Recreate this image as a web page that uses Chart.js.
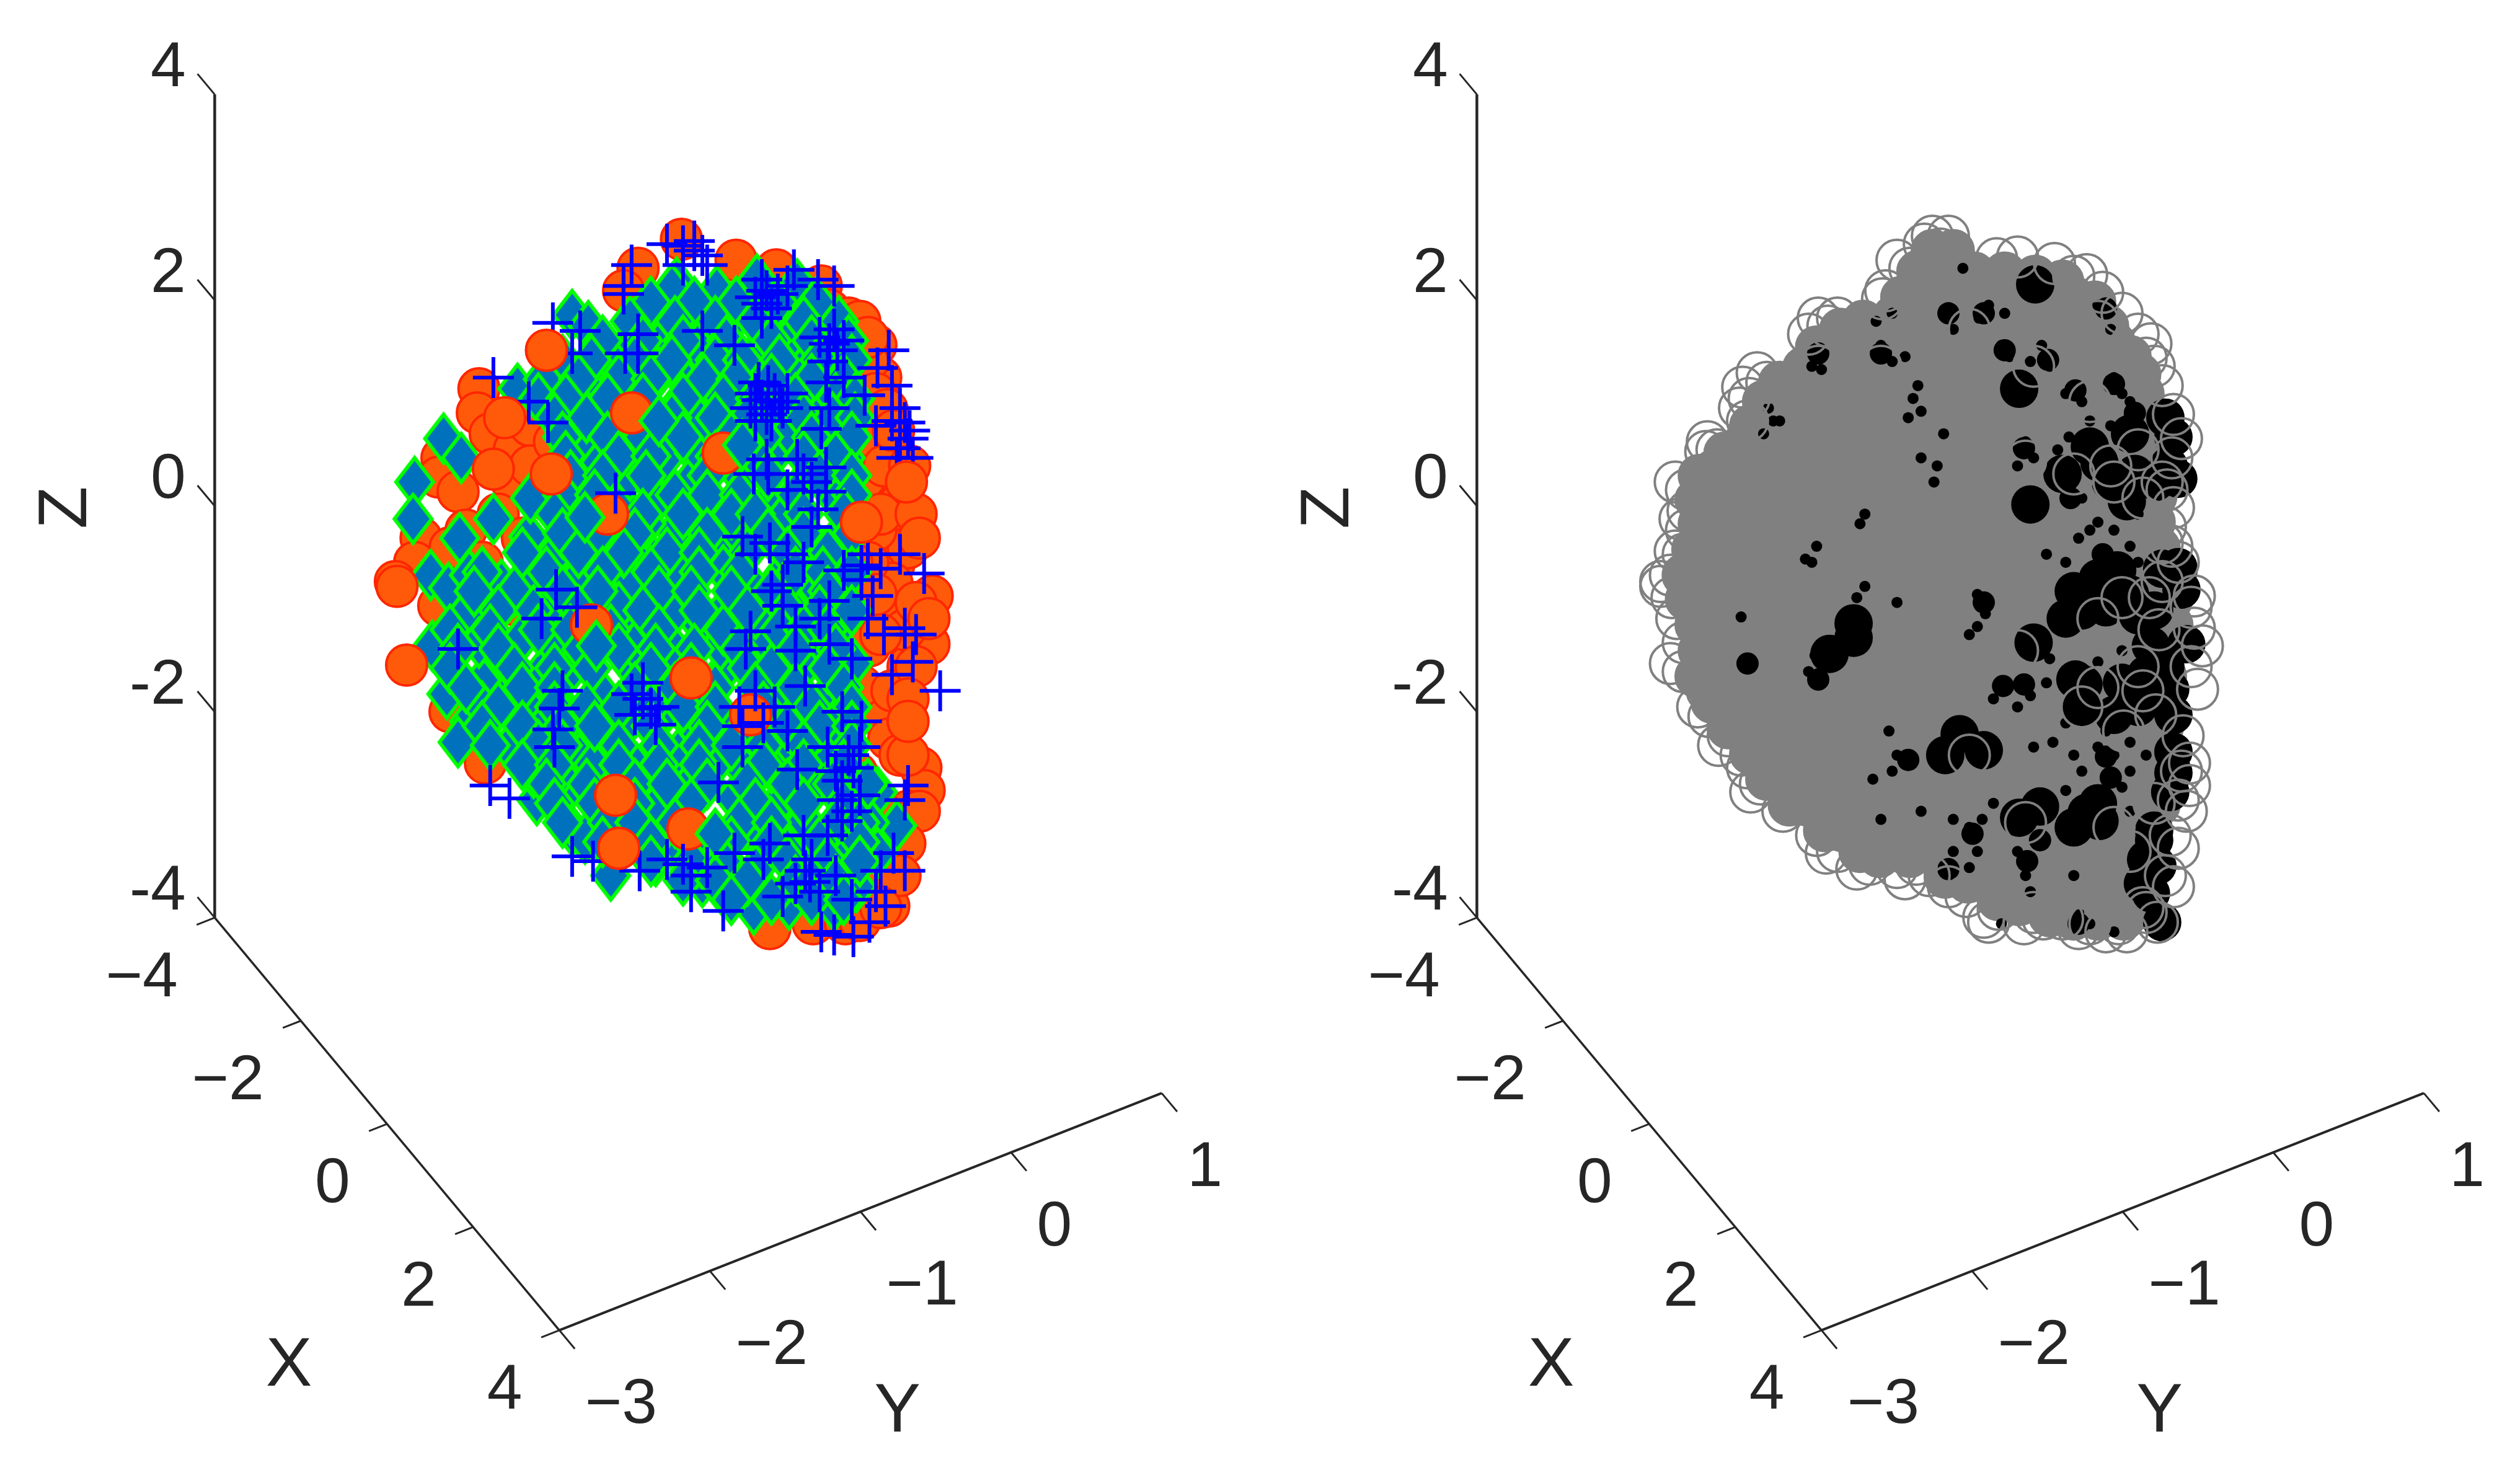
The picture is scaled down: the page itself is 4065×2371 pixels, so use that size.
<!DOCTYPE html>
<html>
<head>
<meta charset="utf-8">
<title>3D scatter panels</title>
<script src="https://cdn.jsdelivr.net/npm/chart.js@4"></script>
<style>
    html, body { margin: 0; padding: 0; background: #fff; }
    canvas { position: absolute; top: 0; }
</style>
</head>
<body>
<canvas id="leftPanel" width="2036" height="2371" style="left:0"></canvas>
<canvas id="rightPanel" width="2029" height="2371" style="left:2036px"></canvas>
<script>
// Axis ticks and labels
const xTicks = [-4, -2, 0, 2, 4];
const xLabels = ['\u22124', '\u22122', '0', '2', '4'];
const yTicks = [-3, -2, -1, 0, 1];
const yLabels = ['\u22123', '\u22122', '\u22121', '0', '1'];
const zTicks = [-4, -2, 0, 2, 4];
const zLabels = ['-4', '-2', '0', '2', '4'];

// Left panel, positions in view units (page scale 1568 x 915)
const orangeBack = [[424,149],[458,162],[397,167],[483,168],[511,178],[388,181],[298,242],[297,257],[516,193],[528,198],[533,214],[548,235],[533,264],[543,272],[343,306],[343,313],[319,301],[275,285],[273,297],[285,306],[538,298],[560,313],[553,334],[556,352],[565,341],[262,335],[280,341],[258,350],[246,362],[580,371],[578,401],[565,415],[536,427],[573,478],[575,492],[565,505],[479,578],[506,575],[526,575],[548,547],[553,564],[553,378],[555,363],[541,402],[280,443],[322,377],[339,361],[302,394],[533,481],[273,377],[550,448],[553,460],[560,470],[302,475],[540,520],[545,330],[540,350],[530,240],[550,290],[555,430],[563,392],[548,505],[558,530],[535,573],[290,330],[300,350],[305,270],[320,280],[330,265],
[548,395],[545,370],[530,350],[548,320],[535,200],[545,215],[548,250],[540,225],[545,245],[552,255],[540,210],[556,268],[566,290],[570,320],[572,335],[570,375],[578,385],[570,415],[565,435],[565,470],[572,505],[563,525],[560,545],[548,565],[330,290],[310,320],[325,335],[345,275],[335,250]];
const orangeMid = [[393,257],[450,282],[378,320],[428,516],[368,389],[467,445]];
const orangeFront = [[314,260],[343,295],[307,292],[340,218],[430,422],[385,528],[565,449],[564,300],[536,325],[247,365],[253,414],[383,495]];
const diamonds = [[421,176],[471,174],[496,177],[418,180],[446,181],[356,196],[366,203],[322,242],[276,273],[258,300],[257,323],[413,211],[457,198],[371,236],[354,237],[446,242],[381,264],[371,285],[413,286],[491,269],[494,208],[516,227],[287,285],[437,261],[388,314],[408,312],[445,319],[477,314],[307,323],[329,334],[420,331],[487,323],[403,344],[450,344],[371,343],[346,344],[268,358],[279,366],[312,364],[290,382],[324,398],[269,402],[346,404],[396,391],[435,388],[418,383],[450,355],[484,361],[524,388],[531,413],[477,400],[300,424],[278,432],[314,435],[332,437],[292,449],[285,462],[317,465],[376,457],[359,470],[423,468],[396,478],[499,448],[484,429],[546,493],[558,514],[334,498],[356,517],[410,500],[484,500],[501,511],[472,539],[469,566],[491,563],[519,564],[524,547],[437,549],[408,536],[364,522],[541,512],[457,497],[349,497],[369,476],[332,481],[462,478],[432,434],[450,418],[393,415],[354,418],[373,430],[410,423],[511,438],[487,467],[516,471],[501,536],[546,531],[533,552],
[436,196],[478,195],[516,206],[392,214],[434,216],[474,215],[380,224],[410,232],[428,240],[468,232],[498,232],[350,255],[394,236],[458,256],[478,254],[510,250],[524,262],[360,275],[395,285],[432,282],[480,285],[508,282],[526,285],[330,310],[392,296],[428,302],[462,298],[500,300],[520,310],[286,335],[385,345],[402,326],[462,335],[508,340],[522,334],[292,358],[328,362],[358,362],[392,360],[422,356],[468,365],[505,362],[522,360],[340,380],[385,378],[452,378],[470,382],[495,382],[510,398],[298,400],[395,402],[420,405],[448,402],[500,415],[470,420],[316,412],[336,420],[430,450],[392,448],[412,445],[356,448],[336,455],[450,450],[520,450],[300,440],[348,482],[428,490],[445,475],[505,490],[525,495],[480,478],[425,530],[465,515],[520,520],[380,545],[455,540],[490,530],[525,530],[450,555],[508,552],
[405,188],[432,188],[458,188],[484,188],[508,188],[392,200],[420,200],[445,200],[470,200],[500,200],[522,200],[375,212],[400,212],[425,212],[452,212],[480,212],[505,212],[528,212],[350,224],[368,224],[395,224],[418,224],[445,224],[462,224],[485,224],[510,224],[530,224],[338,236],[360,236],[385,236],[405,236],[438,236],[458,236],[480,236],[505,236],[525,236],[335,248],[352,248],[378,248],[400,248],[425,248],[450,248],[470,248],[495,248],[520,248],[532,248],[345,260],[365,260],[390,260],[418,260],[445,260],[465,260],[500,260],[518,260],[532,260],[350,272],[378,272],[400,272],[425,272],[455,272],[475,272],[505,272],[530,272],[352,284],[385,284],[405,284],[445,284],[470,284],[500,284],[520,284],[355,296],[375,296],[402,296],[440,296],[478,296],[510,296],[530,296],[350,308],[370,308],[420,308],[440,308],[460,308],[495,308],[530,308],[345,320],[380,320],[400,320],[425,320],[455,320],[470,320],[500,320],[525,320],[350,332],[372,332],[395,332],[440,332],[478,332],[500,332],[530,332],[325,344],[360,344],[388,344],[415,344],[435,344],[465,344],[490,344],[515,344],[300,356],[340,356],[375,356],[405,356],[435,356],[460,356],[495,356],[512,356],[530,356],[295,368],[320,368],[350,368],[372,368],[410,368],[430,368],[455,368],[480,368],[515,368],[310,380],[332,380],[360,380],[400,380],[435,380],[465,380],[490,380],[510,380],[530,380],[280,392],[305,392],[335,392],[355,392],[380,392],[410,392],[450,392],[485,392],[500,392],[515,392],[285,404],[310,404],[362,404],[385,404],[408,404],[432,404],[460,404],[495,404],[520,404],[280,416],[320,416],[345,416],[368,416],[405,416],[430,416],[465,416],[480,416],[515,416],[290,428],[325,428],[345,428],[395,428],[420,428],[445,428],[470,428],[495,428],[525,428],[310,440],[345,440],[365,440],[385,440],[405,440],[425,440],[445,440],[475,440],[505,440],[530,440],[300,452],[325,452],[350,452],[370,452],[405,452],[440,452],[465,452],[490,452],[510,452],[530,452],[305,464],[335,464],[350,464],[385,464],[410,464],[435,464],[455,464],[475,464],[500,464],[530,464],[325,476],[345,476],[385,476],[410,476],[435,476],[475,476],[500,476],[525,476],[340,488],[365,488],[395,488],[415,488],[440,488],[465,488],[490,488],[518,488],[540,488],[345,500],[370,500],[395,500],[430,500],[470,500],[500,500],[525,500],[350,512],[378,512],[395,512],[420,512],[460,512],[480,512],[520,512],[535,512],[375,524],[405,524],[430,524],[455,524],[480,524],[510,524],[535,524],[405,536],[430,536],[450,536],[490,536],[515,536],[535,536],[425,548],[445,548],[465,548],[495,548],[505,548],[520,548],[455,560],[480,560],[505,560],[525,560]];
const diamondsTop = [[410,262],[462,277],[364,322],[445,519],[371,402]];
const plusMarks = [[415,152],[425,153],[432,156],[437,159],[393,165],[388,183],[388,178],[344,201],[361,206],[356,220],[389,220],[397,220],[307,235],[329,250],[341,263],[397,208],[437,206],[457,215],[474,174],[477,181],[474,189],[484,183],[474,198],[494,168],[509,174],[519,178],[519,205],[516,214],[521,218],[553,218],[546,229],[514,238],[472,238],[482,245],[474,249],[467,254],[487,254],[477,258],[516,254],[538,246],[560,254],[563,263],[565,273],[560,279],[568,285],[511,267],[496,286],[477,286],[514,291],[469,295],[383,307],[514,306],[509,317],[505,328],[479,338],[462,334],[536,352],[548,354],[575,357],[487,364],[536,361],[543,371],[516,374],[487,377],[467,393],[464,404],[563,391],[568,412],[585,430],[516,401],[495,405],[346,367],[337,385],[359,378],[285,404],[348,441],[344,454],[393,432],[400,435],[405,441],[408,451],[460,440],[462,452],[462,465],[482,440],[501,427],[536,449],[524,443],[528,470],[531,478],[524,486],[565,489],[563,498],[496,479],[447,487],[524,511],[521,498],[305,489],[317,497],[479,525],[457,531],[556,531],[425,538],[430,545],[398,542],[369,536],[356,533],[450,567],[501,542],[504,549],[487,558],[548,542],[551,564],[541,574],[519,582],[531,583],[511,580],[563,542],
[478,240],[485,250],[470,245],[490,245],[480,262],[470,262],[432,150],[425,165],[440,165],[470,185],[480,192],[490,178],[510,210],[525,212],[515,225],[525,235],[555,262],[566,268],[558,285],[555,240],[545,265],[500,295],[490,305],[505,300],[478,295],[500,350],[490,345],[470,345],[525,355],[540,345],[560,345],[480,368],[495,390],[510,385],[550,395],[570,395],[555,420],[530,410],[470,430],[475,450],[490,455],[515,465],[535,465],[520,480],[535,495],[530,505],[515,520],[500,520],[505,535],[510,555],[495,550],[520,545],[530,560],[545,555],[475,535],[410,440],[395,445],[400,425],[350,430],[345,465],[440,540],[430,555],[415,535],[540,385]];

// Right panel
const grayDisks = [[417,156],[430,156],
[408,169],[424,165],[443,170],[462,170],[481,172],[498,175],
[398,185],[414,181],[433,181],[452,181],[471,181],[490,181],[505,185],[518,188],
[360,205],[374,200],[393,197],[412,197],[431,197],[450,197],[469,197],[488,197],[507,197],[526,203],
[345,216],[359,213],[378,213],[397,213],[416,213],[435,213],[454,213],[473,213],[492,213],[511,213],[530,213],[540,222],
[322,238],[337,229],[356,229],[375,229],[394,229],[413,229],[432,229],[451,229],[470,229],[489,229],[508,229],[527,229],[546,233],
[312,250],[324,245],[343,245],[362,245],[381,245],[400,245],[419,245],[438,245],[457,245],[476,245],[495,245],[514,245],[533,245],[548,245],
[304,265],[317,261],[336,261],[355,261],[374,261],[393,261],[412,261],[431,261],[450,261],[469,261],[488,261],[507,261],[526,261],[545,261],[556,261],
[288,282],[299,277],[318,277],[337,277],[356,277],[375,277],[394,277],[413,277],[432,277],[451,277],[470,277],[489,277],[508,277],[527,277],[546,277],[558,277],
[272,296],[281,293],[300,293],[319,293],[338,293],[357,293],[376,293],[395,293],[414,293],[433,293],[452,293],[471,293],[490,293],[509,293],[528,293],[547,293],[558,293],
[270,311],[281,309],[300,309],[319,309],[338,309],[357,309],[376,309],[395,309],[414,309],[433,309],[452,309],[471,309],[490,309],[509,309],[528,309],[547,309],[556,309],
[272,326],[284,325],[303,325],[322,325],[341,325],[360,325],[379,325],[398,325],[417,325],[436,325],[455,325],[474,325],[493,325],[512,325],[531,325],[550,325],[555,325],
[268,342],[277,341],[296,341],[315,341],[334,341],[353,341],[372,341],[391,341],[410,341],[429,341],[448,341],[467,341],[486,341],[505,341],[524,341],[543,341],[558,341],
[262,358],[271,357],[290,357],[309,357],[328,357],[347,357],[366,357],[385,357],[404,357],[423,357],[442,357],[461,357],[480,357],[499,357],[518,357],[537,357],[556,357],[565,357],
[264,373],[273,373],[292,373],[311,373],[330,373],[349,373],[368,373],[387,373],[406,373],[425,373],[444,373],[463,373],[482,373],[501,373],[520,373],[539,373],[558,373],[566,373],
[270,389],[278,389],[294,389],[313,389],[332,389],[351,389],[370,389],[389,389],[408,389],[427,389],[446,389],[465,389],[484,389],[503,389],[522,389],[541,389],[560,389],[566,389],
[272,405],[280,405],[296,405],[315,405],[334,405],[353,405],[372,405],[391,405],[410,405],[429,405],[448,405],[467,405],[486,405],[505,405],[524,405],[543,405],[562,405],
[270,421],[282,421],[296,421],[315,421],[334,421],[353,421],[372,421],[391,421],[410,421],[429,421],[448,421],[467,421],[486,421],[505,421],[524,421],[543,421],[562,421],
[280,437],[289,437],[308,437],[327,437],[346,437],[365,437],[384,437],[403,437],[422,437],[441,437],[460,437],[479,437],[498,437],[517,437],[536,437],[555,437],
[290,453],[301,453],[320,453],[339,453],[358,453],[377,453],[396,453],[415,453],[434,453],[453,453],[472,453],[491,453],[510,453],[529,453],[548,453],[560,453],
[304,469],[315,469],[334,469],[353,469],[372,469],[391,469],[410,469],[429,469],[448,469],[467,469],[486,469],[505,469],[524,469],[543,469],[558,469],
[314,485],[324,485],[343,485],[362,485],[381,485],[400,485],[419,485],[438,485],[457,485],[476,485],[495,485],[514,485],[533,485],[552,485],[558,485],
[328,501],[339,501],[358,501],[377,501],[396,501],[415,501],[434,501],[453,501],[472,501],[491,501],[510,501],[529,501],[548,501],[558,501],
[350,517],[361,517],[380,517],[399,517],[418,517],[437,517],[456,517],[475,517],[494,517],[513,517],[532,517],[551,517],
[372,530],[384,533],[403,533],[422,533],[441,533],[460,533],[479,533],[498,533],[517,533],[536,533],[552,533],
[425,546],[439,549],[458,549],[477,549],[496,549],[515,549],[534,549],[548,549],
[458,560],[471,563],[490,563],[509,563],[528,563],[545,563],
[490,570],[505,572],[520,572],[536,572]];
const blackLarge = [[471,242],[478,314],[481,177],[562,260],[567,272],[570,298],[543,295],[521,288],[538,312],[570,353],[560,354],[521,371],[525,378],[545,383],[570,356],[572,367],[575,401],[562,415],[565,429],[567,445],[506,423],[511,426],[480,400],[530,445],[425,470],[434,457],[449,467],[484,502],[513,506],[521,511],[471,509],[555,523],[557,539],[553,556],[560,574],[567,481],[565,493],[567,468],[353,407],[368,397],[368,388],[555,517],[540,270],[532,355],[510,380],[545,440],[505,368],[500,385],[520,360],[540,370],[555,380],[553,402],[550,420],[535,425],[510,440],[520,500],[505,515],[550,535],[548,550],[564,290],[556,300],[528,300],[515,278],[498,295]];
const blackMedium = [[385,220],[427,195],[449,195],[462,218],[489,224],[525,192],[506,243],[530,239],[346,220],[474,279],[543,257],[523,345],[503,310],[449,375],[474,426],[461,427],[525,471],[528,484],[476,536],[484,523],[442,519],[427,541],[402,473],[508,575],[346,423],[302,413]];
const blackSmall = [[436,167],[315,254],[318,262],[312,270],[322,262],[405,248],[410,256],[402,260],[408,240],[345,220],[348,230],[342,228],[385,215],[392,225],[400,222],[382,200],[392,195],[425,195],[430,205],[452,190],[446,198],[462,195],[460,215],[465,222],[478,225],[485,215],[490,228],[525,195],[528,205],[520,190],[500,245],[510,250],[530,235],[535,245],[540,250],[475,275],[480,285],[470,290],[495,280],[500,300],[510,310],[515,330],[530,330],[540,340],[545,350],[520,345],[500,350],[488,345],[345,340],[342,350],[338,348],[375,320],[372,326],[420,290],[424,270],[418,300],[410,285],[375,365],[370,372],[365,380],[395,375],[445,370],[450,382],[445,390],[440,395],[488,425],[490,410],[460,430],[455,435],[470,440],[478,433],[380,485],[390,455],[392,480],[395,470],[480,465],[505,470],[510,480],[520,465],[525,455],[530,470],[385,510],[410,505],[430,510],[440,515],[445,530],[470,530],[475,545],[478,555],[535,490],[540,480],[550,470],[340,418],[344,408],[298,384],[300,415],[460,575],[508,568],[515,575],[530,580],[440,540],[430,530],
[520,325],[508,335],[528,265],[515,262],[502,272],[545,320],[535,405],[520,412],[500,450],[492,462],[540,462],[500,492],[455,500],[448,510],[505,545],[540,505]];
const grayRings = [[417,147],[427,147],[395,162],[457,161],[493,164],[513,171],[388,181],[346,198],[358,198],[553,214],[550,223],[308,232],[299,241],[297,254],[277,275],[276,281],[257,300],[260,323],[257,343],[248,362],[567,258],[572,273],[567,316],[562,328],[560,338],[570,350],[248,365],[254,413],[277,430],[271,440],[284,464],[302,478],[304,493],[324,505],[351,531],[370,541],[400,547],[407,538],[427,552],[449,571],[452,574],[474,575],[486,572],[508,578],[525,580],[538,580],[557,574],[567,552],[570,528],[575,505],[577,489],[577,475],[582,429],[585,402],[580,371],[580,391],
[520,385],[535,372],[552,372],[558,392],[545,415],[548,430],[556,445],[510,440],[520,428],[536,455],[470,405],[560,300],[548,310],[530,300],[545,280],[555,500],[540,530],[548,565],[530,515],[475,512],[440,470],[560,362],[528,290],[505,295],
[412,152],[422,155],[403,167],[386,186],[352,203],[340,208],[470,160],[505,172],[523,182],[535,195],[545,208],[314,238],[303,248],[302,262],[283,280],[264,305],[265,318],[264,330],[262,345],[254,358],[255,372],[258,385],[262,400],[262,418],[275,425],[278,446],[290,458],[298,470],[310,488],[330,500],[345,520],[358,530],[378,538],[395,540],[415,545],[438,558],[458,566],[480,568],[498,572],[515,575],[533,575],[550,568],[562,545],[565,520],[570,498],[572,480],[573,458],[578,415],[578,378],[566,340],[563,305],[566,285],[560,240],[555,228],
[346,228],[385,228],[440,205],[480,228],[520,200],[475,287],[515,250]];

// View units to projected axes: page position of the origin and of one unit along each axis
const origin = [521.9, 332.7];
const xStep = [26.8, 32.1];
const yStep = [93.7, -36.9];
const zStep = [0, -64.05];

function project(x, y, z) {
    return {
        x: origin[0] + x * xStep[0] + y * yStep[0] + z * zStep[0],
        y: origin[1] + x * xStep[1] + y * yStep[1] + z * zStep[1]
    };
}

function toPoints(list) {
    return list.map(p => ({ x: p[0], y: p[1] }));
}

function lineSet(from, to, width) {
    return {
        data: [from, to],
        showLine: true,
        pointRadius: 0,
        borderColor: '#262626',
        borderWidth: width,
        order: 0
    };
}

// Box edges and tick marks
function axisSets() {
    const sets = [
        lineSet(project(-4, -3, -4), project(-4, -3, 4), 4.5),
        lineSet(project(-4, -3, -4), project(4, -3, -4), 3.5),
        lineSet(project(4, -3, -4), project(4, 1, -4), 4)
    ];
    zTicks.forEach(t => sets.push(lineSet(project(-4, -3, t), project(-4.4, -3, t), 3)));
    xTicks.forEach(t => sets.push(lineSet(project(t, -3, -4), project(t, -3.12, -4), 3)));
    yTicks.forEach(t => sets.push(lineSet(project(4, t, -4), project(4.36, t, -4), 3)));
    return sets;
}

function markSet(list, style, radius, fill, edge, width, order) {
    return {
        data: toPoints(list),
        pointStyle: style,
        pointRadius: radius,
        pointBackgroundColor: fill,
        pointBorderColor: edge,
        pointBorderWidth: width,
        showLine: false,
        order: order
    };
}

// Narrow diamond marker, taller than wide, used as a Chart.js point style
function diamondMarker() {
    const c = document.createElement('canvas');
    c.width = 70;
    c.height = 88;
    const g = c.getContext('2d');
    g.beginPath();
    g.moveTo(35, 5);
    g.lineTo(65, 44);
    g.lineTo(35, 83);
    g.lineTo(5, 44);
    g.closePath();
    g.fillStyle = '#0072bd';
    g.fill();
    g.strokeStyle = '#00ff00';
    g.lineWidth = 6;
    g.stroke();
    return c;
}

const axisText = {
    id: 'axisText',
    afterDatasetsDraw(chart) {
        const ctx = chart.ctx;
        const sx = chart.scales.x;
        const sy = chart.scales.y;
        const put = (text, p, dx, dy, align, size, rotate) => {
            ctx.save();
            ctx.translate(sx.getPixelForValue(p.x + dx), sy.getPixelForValue(p.y + dy));
            if (rotate) ctx.rotate(-Math.PI / 2);
            ctx.font = size + 'px "Liberation Sans"';
            ctx.fillStyle = '#262626';
            ctx.textAlign = align;
            ctx.textBaseline = 'middle';
            ctx.fillText(text, 0, 0);
            ctx.restore();
        };
        zTicks.forEach((t, i) => put(zLabels[i], project(-4, -3, t), -18, -16, 'right', 102));
        xTicks.forEach((t, i) => put(xLabels[i], project(t, -3, -4), -23, 38, 'right', 102));
        yTicks.forEach((t, i) => put(yLabels[i], project(4, t, -4), 16, 47, 'left', 102));
        put('X', project(0, -3, -4), -61, 151, 'center', 112);
        put('Y', project(4, -1, -4), 23, 125, 'center', 112);
        put('Z', project(-4, -3, 0), -92, 1, 'center', 112, true);
    }
};

function makePanel(id, datasets) {
    const canvas = document.getElementById(id);
    return new Chart(canvas, {
        type: 'scatter',
        data: { datasets: datasets },
        plugins: [axisText],
        options: {
            responsive: false,
            animation: false,
            devicePixelRatio: 1,
            layout: { padding: 0, autoPadding: false },
            plugins: { legend: { display: false }, tooltip: { enabled: false } },
            scales: {
                x: { type: 'linear', display: false, min: 0, max: canvas.width / 2.5925 },
                y: { type: 'linear', display: false, reverse: true, min: 0, max: 915 }
            }
        }
    });
}

const diamondStyle = diamondMarker();

makePanel('leftPanel', axisSets().concat([
    markSet(orangeBack, 'circle', 33, '#ff5a0a', '#ff2600', 4, 7),
    markSet(diamonds, diamondStyle, 40, '#0072bd', '#00ff00', 0, 6),
    markSet(orangeMid, 'circle', 33, '#ff5a0a', '#ff2600', 4, 5),
    markSet(diamondsTop, diamondStyle, 40, '#0072bd', '#00ff00', 0, 4),
    markSet(plusMarks, 'cross', 33, '#0000ff', '#0000ff', 6, 3),
    markSet(orangeFront, 'circle', 33, '#ff5a0a', '#ff2600', 4, 2)
]));

makePanel('rightPanel', axisSets().concat([
    markSet(grayDisks, 'circle', 33, '#808080', '#808080', 4, 7),
    markSet(blackSmall, 'circle', 9, '#000000', '#000000', 0, 6),
    markSet(blackMedium, 'circle', 18, '#000000', '#000000', 0, 5),
    markSet(blackLarge, 'circle', 31, '#000000', '#000000', 0, 4),
    markSet(grayRings, 'circle', 33, 'rgba(0,0,0,0)', '#808080', 4, 2)
]));
</script>
</body>
</html>
